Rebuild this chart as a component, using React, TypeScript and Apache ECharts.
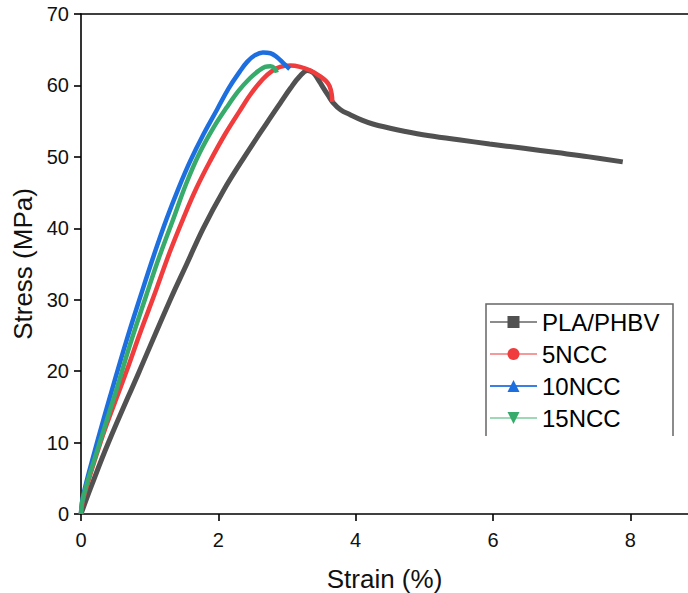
import React, { useEffect, useRef } from "react";
import * as echarts from "echarts";

const seriesNames = ["PLA/PHBV", "5NCC", "10NCC", "15NCC"];

const plaPhbv: number[][] = [
  [0, 0], [0.15, 3.9], [0.4, 10.0], [0.85, 20.0], [1.3, 30.0], [1.54, 35.0],
  [1.78, 40.0], [2.07, 45.2], [2.38, 50.0], [2.71, 54.8], [2.9, 57.5],
  [3.05, 59.6], [3.18, 61.2], [3.3, 62.1], [3.38, 61.8], [3.45, 60.9],
  [3.52, 59.8], [3.6, 58.6], [3.67, 57.6], [3.78, 56.6], [3.92, 55.9],
  [4.1, 55.1], [4.25, 54.6], [4.6, 53.8], [4.98, 53.1], [5.5, 52.4],
  [5.95, 51.8], [6.45, 51.2], [6.93, 50.6], [7.4, 50.0], [7.89, 49.3],
];

const ncc5: number[][] = [
  [0, 0], [0.04, 2.4], [0.3, 10.5], [0.5, 15.8], [0.66, 19.9], [0.87, 25.6],
  [1.08, 31.0], [1.29, 36.6], [1.49, 41.4], [1.68, 45.6], [1.88, 49.4],
  [2.1, 53.2], [2.31, 56.4], [2.48, 58.9], [2.65, 60.9], [2.78, 62.0],
  [2.9, 62.6], [3.05, 62.8], [3.19, 62.6], [3.34, 62.1], [3.48, 61.3],
  [3.57, 60.6], [3.62, 59.9], [3.65, 58.8], [3.66, 57.7],
];

const ncc10: number[][] = [
  [0, 0], [0.03, 2.5], [0.2, 8.8], [0.44, 17.0], [0.66, 24.2], [0.87, 30.6],
  [1.06, 36.2], [1.25, 41.4], [1.42, 45.6], [1.59, 49.4], [1.78, 53.1],
  [1.98, 56.6], [2.15, 59.6], [2.31, 61.9], [2.42, 63.3], [2.53, 64.2],
  [2.65, 64.6], [2.76, 64.5], [2.86, 63.9], [2.95, 63.1], [3.04, 62.3],
];

const ncc15: number[][] = [
  [0, 0], [0.03, 2.3], [0.25, 9.3], [0.5, 16.9], [0.72, 23.9], [0.95, 30.6],
  [1.14, 36.0], [1.34, 41.2], [1.53, 46.2], [1.73, 50.6], [1.93, 54.1],
  [2.12, 56.9], [2.3, 59.3], [2.46, 61.0], [2.58, 62.0], [2.68, 62.6],
  [2.76, 62.7], [2.82, 62.4], [2.85, 61.8],
];

const xTicks = [0, 2, 4, 6, 8];
const lineColors = ["#515151", "#f03c3c", "#1d6fe0", "#37ab6b"];
const legendLineColors = ["#8c8c8c", "#f59a9a", "#3a7fe3", "#9fd8b6"];
const symbols = ["rect", "circle", "triangle", "path://M0,0L10,0L5,9Z"];

export default function App() {
  const ref = useRef<HTMLDivElement>(null);
  useEffect(() => {
    if (!ref.current) return;
    const chart = echarts.init(ref.current, undefined, { renderer: "svg" });
    const datasets = [plaPhbv, ncc5, ncc10, ncc15];
    const font = "Liberation Sans, Arial, sans-serif";
    chart.setOption({
      animation: false,
      backgroundColor: "#ffffff",
      grid: { left: 81, top: 14, right: 0, height: 500, outerBoundsMode: "none", containLabel: false },
      xAxis: [
        {
          type: "value",
          min: 0,
          max: 8.84,
          interval: 2,
          name: "Strain (%)",
          nameLocation: "middle",
          nameGap: 52,
          nameTextStyle: { fontSize: 26, color: "#111", fontFamily: font },
          axisLine: { show: true, onZero: false, lineStyle: { color: "#000", width: 1.6 } },
          axisTick: { show: true, inside: false, length: 7, lineStyle: { color: "#000", width: 1.6 } },
          axisLabel: {
            fontSize: 20, color: "#111", margin: 16, fontFamily: font,
            showMaxLabel: false,
            formatter: (v: number) => (xTicks.includes(v) ? String(v) : ""),
          },
          splitLine: { show: false },
        },
        {
          type: "value",
          position: "top",
          min: 0,
          max: 8.84,
          axisLine: { show: true, onZero: false, lineStyle: { color: "#000", width: 1.6 } },
          axisTick: { show: false },
          axisLabel: { show: false },
          splitLine: { show: false },
        },
      ],
      yAxis: {
        type: "value",
        min: 0,
        max: 70,
        interval: 10,
        name: "Stress (MPa)",
        nameLocation: "middle",
        nameGap: 40,
        nameTextStyle: { fontSize: 26, color: "#111", fontFamily: font },
        axisLine: { show: true, onZero: false, lineStyle: { color: "#000", width: 1.6 } },
        axisTick: { show: true, inside: false, length: 7, lineStyle: { color: "#000", width: 1.6 } },
        axisLabel: { fontSize: 20, color: "#111", margin: 12, fontFamily: font },
        splitLine: { show: false },
      },
      legend: {
        orient: "vertical",
        left: 489,
        top: 310,
        padding: 0,
        itemWidth: 47,
        itemHeight: 15,
        itemGap: 8,
        textStyle: { fontSize: 24, color: "#000", fontFamily: font },
        data: seriesNames.map((n, i) => ({
          name: n,
          lineStyle: { color: legendLineColors[i], width: 2 },
          itemStyle: { color: lineColors[i] },
        })),
      },
      graphic: [
        {
          type: "polyline",
          shape: { points: [[486, 436], [486, 304], [673, 304], [673, 436]] },
          style: { stroke: "#666", lineWidth: 1.5, fill: "none" },
          silent: true,
        },
      ],
      series: datasets.map((d, i) => ({
        name: seriesNames[i],
        type: "line",
        xAxisIndex: 0,
        data: d,
        smooth: 0.4,
        showSymbol: false,
        symbol: symbols[i],
        symbolSize: 12,
        lineStyle: { color: lineColors[i], width: i === 0 ? 5 : 4.5 },
        itemStyle: { color: lineColors[i] },
        z: 2 + i,
      })),
    });
    return () => chart.dispose();
  }, []);
  return (
    <div
      ref={ref}
      style={{ position: "fixed", left: 0, top: 0, width: 688, height: 593, background: "#fff" }}
    />
  );
}
